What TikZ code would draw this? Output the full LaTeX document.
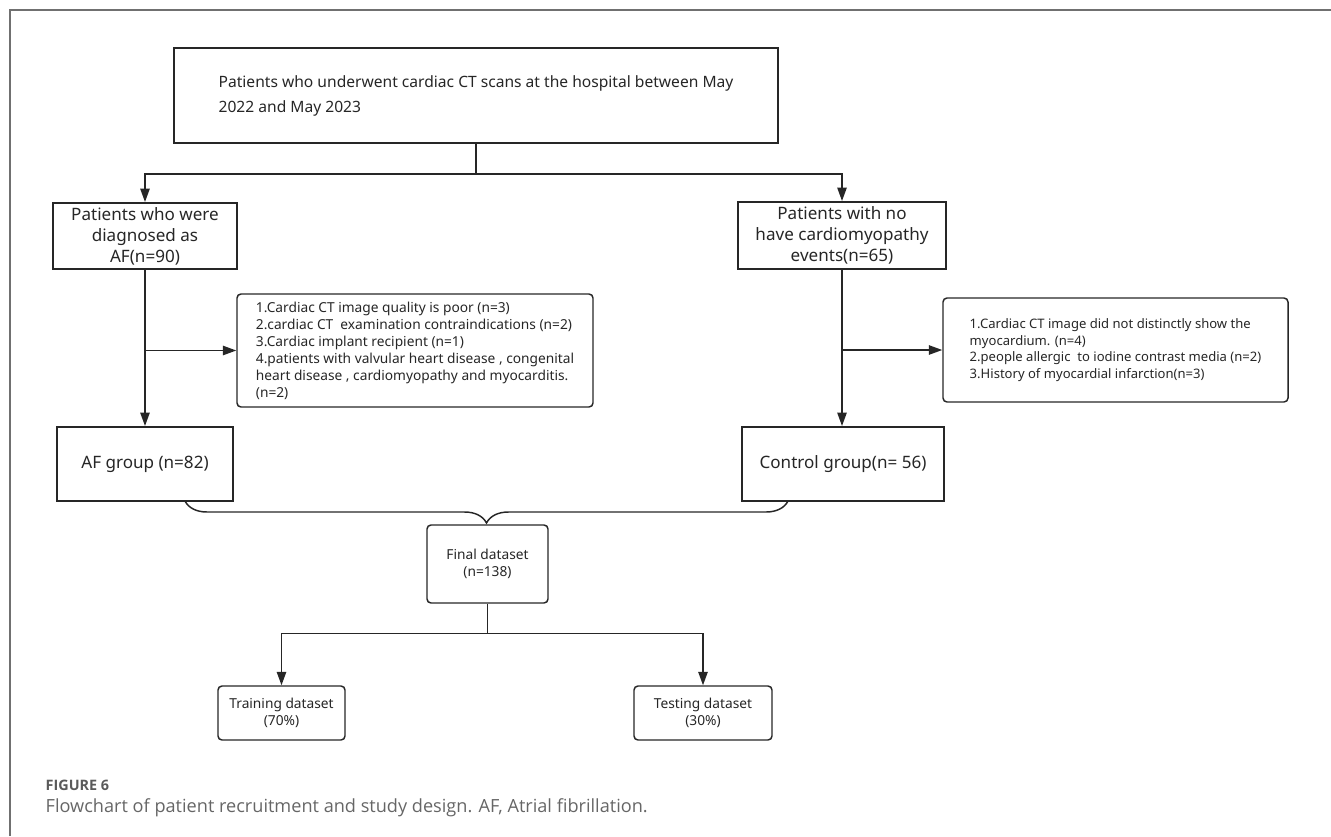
\documentclass[tikz,border=0pt]{standalone}
\usepackage{fontspec}
\setmainfont{Noto Sans}
\newfontfamily\capfont{Open Sans}
\usetikzlibrary{arrows.meta,positioning,decorations.pathreplacing}
\definecolor{ink}{HTML}{262626}
\definecolor{capink}{HTML}{666666}
\definecolor{figink}{HTML}{5A5A5A}
\definecolor{rim}{HTML}{707070}
\tikzset{
  >={Triangle[length=10pt,width=7pt]},
  box/.style={draw=ink, line width=1.5pt, align=center, text=ink, inner sep=0pt,
    font=\fontsize{12.8}{15.75}\selectfont},
  topbox/.style={box, align=left, font=\fontsize{11.7}{18.75}\selectfont},
  exbox/.style={draw=ink, line width=1.1pt, rounded corners=3pt, align=left,
    text=ink, inner sep=0pt, font=\fontsize{10.3}{12.75}\selectfont},
  exnarrow/.style={exbox, font=\fontsize{9.8}{12.5}\selectfont},
  dsbox/.style={exbox, align=center, font=\fontsize{10.3}{12.5}\selectfont},
  ln/.style={draw=ink, line width=1.1pt},
  arr/.style={->, draw=ink, line width=1.1pt},
  brc/.style={draw=ink, line width=1.1pt, decorate,
    decoration={brace, mirror, amplitude=16.5pt}},
  rim/.style={draw=rim, line width=1.2pt},
}

\begin{document}
\begin{tikzpicture}[x=0.75pt,y=-0.75pt]
  \useasboundingbox (0,0) rectangle (1331,836);
  \draw[rim] (10,836) -- (10,10) -- (1331,10);

  % =================== recruitment ===================
  \node[topbox, minimum width=453pt, minimum height=71.25pt] (top) at (476,95.5)
    {Patients who underwent cardiac CT scans at the hospital between May\\ 2022 and May 2023};
  \node[box, minimum width=138pt, minimum height=49.5pt] (paf) at (145,236)
    {Patients who were\\ diagnosed as\\ AF(n=90)};
  \node[box, minimum width=156pt, minimum height=50.25pt] (pctl) at (842,235.5)
    {Patients with no\\ have cardiomyopathy\\ events(n=65)};
  \coordinate (xl) at (145,0);
  \coordinate (xr) at (842,0);
  \draw[ln] (top.south) -- ++(0,30) coordinate (j1);
  \draw[arr] (j1) -| (xl |- paf.north);
  \draw[arr] (j1) -| (xr |- pctl.north);

  % exclusions
  \node[exbox, minimum width=267pt, minimum height=84.75pt] (exl) at (415,350.5)
    {1.Cardiac CT image quality is poor (n=3)\\
     2.cardiac CT\ \ examination contraindications (n=2)\\
     3.Cardiac implant recipient (n=1)\\
     4.patients with valvular heart disease , congenital\\
     heart disease , cardiomyopathy and myocarditis.\\
     (n=2)};
  \node[exnarrow, minimum width=258.75pt, minimum height=78pt] (exr) at (1115.5,350)
    {1.Cardiac CT image did not distinctly show the\\
     myocardium. (n=4)\\
     2.people allergic\ \ to iodine contrast media (n=2)\\
     3.History of myocardial infarction(n=3)};

  % groups
  \node[box, minimum width=132pt, minimum height=55.5pt] (afg) at (145,464) {AF group (n=82)};
  \node[box, minimum width=151.5pt, minimum height=55.5pt] (ctl) at (843,464) {Control group(n= 56)};
  \draw[arr] (xl |- paf.south) -- (xl |- afg.north);
  \draw[arr] (xr |- pctl.south) -- (xr |- ctl.north);
  \draw[arr] (xl |- exl.west) -- (exl.west);
  \draw[arr] (xr |- exr.west) -- (exr.west);

  % =================== dataset ===================
  \node[dsbox, minimum width=90.75pt, minimum height=58.5pt] (fin) at (487.5,564) {Final dataset\\ (n=138)};
  \coordinate (bl) at (185,501);
  \coordinate (br) at (788,501);
  \draw[brc] (bl) -- (br);
  \node[dsbox, minimum width=95.25pt, minimum height=40.5pt] (trn) at (281.5,713) {Training dataset\\ (70\%)};
  \node[dsbox, minimum width=103.5pt, minimum height=40.5pt] (tst) at (703,713) {Testing dataset\\ (30\%)};
  \draw[ln] (fin.south) -- ++(0,30) coordinate (j3);
  \draw[arr] (j3) -| (trn.north);
  \draw[arr] (j3) -| (tst.north);

  % caption
  \node[anchor=west, text=figink, font=\capfont\bfseries\fontsize{10.8}{12}\selectfont] (fig) at (41,785) {FIGURE 6};
  \node[anchor=west, text=capink, font=\capfont\fontsize{13.6}{16}\selectfont] (cap) at (41,808)
    {Flowchart of patient recruitment and study design. AF, Atrial fibrillation.};
\end{tikzpicture}
\end{document}
